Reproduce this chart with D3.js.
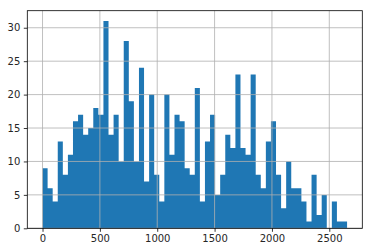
<!DOCTYPE html>
<html>
<head>
<meta charset="utf-8">
<script src="https://cdn.jsdelivr.net/npm/d3@7"></script>
<style>
body{margin:0;background:#fff}
svg{display:block}
text{font-family:"DejaVu Sans",sans-serif;font-size:10px;fill:#262626}
</style>
</head>
<body>
<div id="chart"></div>
<script>
'use strict'

// histogram: 60 equal bins over the data range
var dataRange = [0, 2655]
var counts = [9, 6, 4, 13, 8, 11, 16, 17, 14, 15,
	18, 17, 31, 14, 17, 10, 28, 19, 10, 24,
	7, 20, 8, 4, 20, 11, 17, 16, 9, 8,
	21, 4, 13, 17, 5, 8, 14, 12, 23, 12,
	11, 23, 8, 6, 13, 16, 8, 3, 10, 6,
	6, 4, 1, 8, 2, 5, 0, 4, 1, 1]
var xTicks = [0, 500, 1000, 1500, 2000, 2500]
var yTicks = [0, 5, 10, 15, 20, 25, 30]

var width = 372, height = 252
var margins = {top: 10.7, right: 9.7, bottom: 23.7, left: 27.3}
var w = width - margins.left - margins.right
var h = height - margins.top - margins.bottom

var binW = (dataRange[1] - dataRange[0]) / counts.length
var bins = counts.map(function(c, i){
	return {x0: dataRange[0] + i * binW, x1: dataRange[0] + (i + 1) * binW, count: c}
})

var pad = (dataRange[1] - dataRange[0]) * 0.05
var x = d3.scaleLinear()
	.domain([dataRange[0] - pad, dataRange[1] + pad])
	.range([0, w])
var y = d3.scaleLinear()
	.domain([0, d3.max(counts) * 1.05])
	.range([h, 0])

var svg = d3.select("#chart").append("svg")
	.attr("width", width)
	.attr("height", height)
var g = svg.append("g")
	.attr("transform", "translate(" + margins.left + "," + margins.top + ")")

// bars as one stepped area so neighbours don't leave seams
var steps = bins.map(function(d){ return {x: d.x0, c: d.count} })
steps.push({x: bins[bins.length - 1].x1, c: 0})
var area = d3.area()
	.x(function(d){ return x(d.x) })
	.y0(h)
	.y1(function(d){ return y(d.c) })
	.curve(d3.curveStepAfter)
g.append("path")
	.attr("class", "bars")
	.datum(steps)
	.attr("d", area)
	.style("fill", "#1f77b4")

// grid on top of the bars, like the original
g.selectAll(".vgrid").data(xTicks).enter().append("line")
	.attr("x1", function(d){ return x(d) }).attr("x2", function(d){ return x(d) })
	.attr("y1", 0).attr("y2", h)
	.style("stroke", "#b0b0b0").style("stroke-width", 0.8)
g.selectAll(".hgrid").data(yTicks).enter().append("line")
	.attr("x1", 0).attr("x2", w)
	.attr("y1", function(d){ return y(d) }).attr("y2", function(d){ return y(d) })
	.style("stroke", "#b0b0b0").style("stroke-width", 0.8)

var xa = g.append("g")
	.attr("transform", "translate(0," + h + ")")
	.call(d3.axisBottom(x).tickValues(xTicks).tickFormat(d3.format("d")).tickSize(3.5).tickPadding(3.5))
var ya = g.append("g")
	.call(d3.axisLeft(y).tickValues(yTicks).tickFormat(d3.format("d")).tickSize(3.5).tickPadding(3.5))

;[xa, ya].forEach(function(a){
	a.select(".domain").remove()
	a.selectAll("line").style("stroke", "#000").style("stroke-width", 0.8)
	a.selectAll("text").style("font-family", "DejaVu Sans").style("font-size", "10px").style("fill", "#262626")
})

g.append("rect")
	.attr("width", w).attr("height", h)
	.style("fill", "none").style("stroke", "#000").style("stroke-width", 0.8)
</script>
</body>
</html>
